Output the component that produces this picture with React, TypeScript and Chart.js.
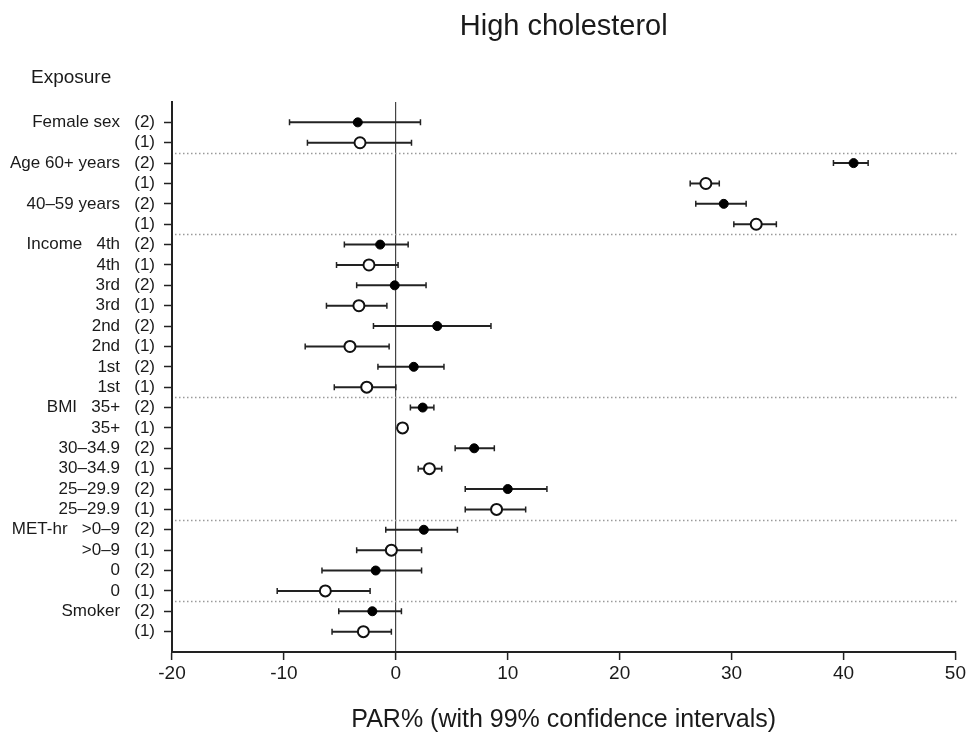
import React, { useEffect, useRef } from "react";
import { Chart, registerables } from "chart.js";

Chart.register(...registerables);

// Row labels, top to bottom (model (2) filled, model (1) open)
const rowLabels = [
  "Female sex   (2)",
  "(1)",
  "Age 60+ years   (2)",
  "(1)",
  "40\u201359 years   (2)",
  "(1)",
  "Income   4th   (2)",
  "4th   (1)",
  "3rd   (2)",
  "3rd   (1)",
  "2nd   (2)",
  "2nd   (1)",
  "1st   (2)",
  "1st   (1)",
  "BMI   35+   (2)",
  "35+   (1)",
  "30\u201334.9   (2)",
  "30\u201334.9   (1)",
  "25\u201329.9   (2)",
  "25\u201329.9   (1)",
  "MET-hr   >0\u20139   (2)",
  ">0\u20139   (1)",
  "0   (2)",
  "0   (1)",
  "Smoker   (2)",
  "(1)",
];

// Model (2): filled markers (rows 0,2,4,...)
const model2Est = [-3.4, 40.9, 29.3, -1.4, -0.1, 3.7, 1.6, 2.4, 7.0, 10.0, 2.5, -1.8, -2.1];
const model2Lo = [-9.5, 39.1, 26.8, -4.6, -3.5, -2.0, -1.6, 1.3, 5.3, 6.2, -0.9, -6.6, -5.1];
const model2Hi = [2.2, 42.2, 31.3, 1.1, 2.7, 8.5, 4.3, 3.4, 8.8, 13.5, 5.5, 2.3, 0.5];

// Model (1): open markers (rows 1,3,5,...)
const model1Est = [-3.2, 27.7, 32.2, -2.4, -3.3, -4.1, -2.6, 0.6, 3.0, 9.0, -0.4, -6.3, -2.9];
const model1Lo = [-7.9, 26.3, 30.2, -5.3, -6.2, -8.1, -5.5, 0.3, 2.0, 6.2, -3.5, -10.6, -5.7];
const model1Hi = [1.4, 28.9, 34.0, 0.2, -0.8, -0.6, 0.0, 0.9, 4.1, 11.6, 2.3, -2.3, -0.4];

// Group separators (between rows)
const separatorRows = [1.5, 5.5, 13.5, 19.5, 23.5];

const xMin = -20;
const xMax = 50;
const xStep = 10;

const titleText = "High cholesterol";
const yHeaderText = "Exposure";
const xTitleText = "PAR% (with 99% confidence intervals)";

const FONT = '"Liberation Sans", Arial, Helvetica, sans-serif';

export default function App() {
  const ref = useRef<HTMLCanvasElement>(null);

  useEffect(() => {
    document.body.style.margin = "0";
    document.body.style.overflow = "hidden";
    const canvas = ref.current;
    if (!canvas) return;

    const decorations = {
      id: "forestDecorations",
      beforeDatasetsDraw(chart: any) {
        const { ctx, chartArea, scales } = chart;
        const xs = scales.x;
        const ys = scales.y;
        ctx.save();
        // dotted separators
        ctx.strokeStyle = "#9a9a9a";
        ctx.lineWidth = 1.3;
        ctx.setLineDash([1.5, 2.5]);
        separatorRows.forEach((r) => {
          const y = Math.round(ys.getPixelForValue(r)) + 0.5;
          ctx.beginPath();
          ctx.moveTo(chartArea.left + 3, y);
          ctx.lineTo(chartArea.right + 1, y);
          ctx.stroke();
        });
        ctx.setLineDash([]);
        // error bars
        ctx.strokeStyle = "#222";
        const drawBar = (lo: number, hi: number, row: number) => {
          const y = ys.getPixelForValue(row);
          const x1 = xs.getPixelForValue(lo);
          const x2 = xs.getPixelForValue(hi);
          ctx.lineWidth = 2;
          ctx.beginPath();
          ctx.moveTo(x1, y);
          ctx.lineTo(x2, y);
          ctx.stroke();
          ctx.lineWidth = 1.5;
          ctx.beginPath();
          ctx.moveTo(x1, y - 3);
          ctx.lineTo(x1, y + 3);
          ctx.moveTo(x2, y - 3);
          ctx.lineTo(x2, y + 3);
          ctx.stroke();
        };
        model2Lo.forEach((lo, i) => drawBar(lo, model2Hi[i], 2 * i));
        model1Lo.forEach((lo, i) => drawBar(lo, model1Hi[i], 2 * i + 1));
        ctx.restore();
      },
      afterDraw(chart: any) {
        const { ctx, chartArea } = chart;
        ctx.save();
        ctx.fillStyle = "#1a1a1a";
        ctx.font = `19px ${FONT}`;
        ctx.textAlign = "left";
        ctx.textBaseline = "middle";
        ctx.fillText(yHeaderText, chartArea.left - 141, chartArea.top - 24);
        ctx.restore();
      },
    };

    const chart = new Chart(canvas, {
      type: "scatter",
      data: {
        datasets: [
          {
            label: "(2)",
            data: model2Est.map((x, i) => ({ x, y: 2 * i })),
            pointRadius: 4.5,
            pointBackgroundColor: "#000",
            pointBorderColor: "#000",
            pointBorderWidth: 1,
          },
          {
            label: "(1)",
            data: model1Est.map((x, i) => ({ x, y: 2 * i + 1 })),
            pointRadius: 5.5,
            pointBackgroundColor: "#fff",
            pointBorderColor: "#111",
            pointBorderWidth: 2,
          },
        ],
      },
      options: {
        responsive: false,
        animation: false,
        devicePixelRatio: 1,
        layout: { padding: { left: 0, right: 12, top: 0, bottom: 0 } },
        plugins: {
          legend: { display: false },
          tooltip: { enabled: false },
          title: {
            display: true,
            text: titleText,
            fullSize: false,
            align: "center",
            color: "#1a1a1a",
            font: { family: FONT, size: 29, weight: "normal" },
            padding: { top: 10, bottom: 57.2 },
          },
        },
        scales: {
          x: {
            type: "linear",
            position: "bottom",
            min: xMin,
            max: xMax,
            afterFit: (scale: any) => {
              scale.height = 84;
            },
            ticks: {
              stepSize: xStep,
              color: "#1a1a1a",
              font: { family: FONT, size: 19 },
              padding: 2,
            },
            grid: {
              drawOnChartArea: true,
              color: (ctx: any) => (ctx.tick && ctx.tick.value === 0 ? "#444" : "rgba(0,0,0,0)"),
              lineWidth: 1.2,
              drawTicks: true,
              tickColor: "#222",
              tickLength: 8,
              tickWidth: 1.5,
            },
            border: { display: true, color: "#222", width: 2 },
            title: {
              display: true,
              text: xTitleText,
              color: "#1a1a1a",
              font: { family: FONT, size: 25 },
              padding: { top: 0, bottom: 1 },
            },
          },
          y: {
            type: "linear",
            position: "left",
            reverse: true,
            min: -1,
            max: rowLabels.length,
            afterFit: (scale: any) => {
              scale.width = 172;
            },
            afterBuildTicks: (scale: any) => {
              scale.ticks = rowLabels.map((_, i) => ({ value: i }));
            },
            ticks: {
              autoSkip: false,
              color: "#1a1a1a",
              font: { family: FONT, size: 17 },
              padding: 9,
              callback: (v: any) => rowLabels[v as number] ?? "",
            },
            grid: {
              drawOnChartArea: false,
              drawTicks: true,
              tickColor: "#222",
              tickLength: 8,
              tickWidth: 1.5,
            },
            border: { display: true, color: "#222", width: 2 },
          },
        },
      },
      plugins: [decorations],
    });

    return () => chart.destroy();
  }, []);

  return (
    <canvas
      ref={ref}
      width={968}
      height={736}
      style={{ display: "block", width: 968, height: 736 }}
    />
  );
}
